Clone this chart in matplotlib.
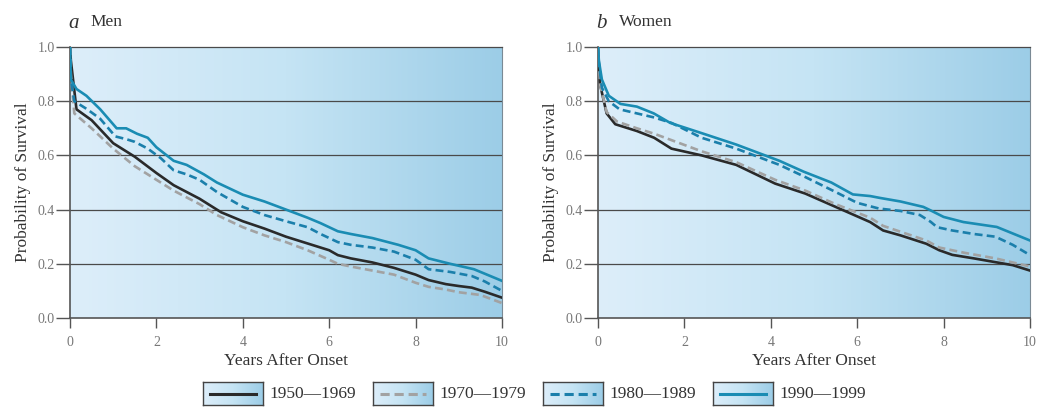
import numpy as np
import matplotlib
matplotlib.use("Agg")
import matplotlib.pyplot as plt
from matplotlib.colors import LinearSegmentedColormap

# survival curves (years after onset, probability)
men_t_5069 = [0, 0.02, 0.15, 0.5, 1.0, 1.5, 2.0, 2.4, 2.7, 3.0, 3.3, 3.5, 4.0, 4.5, 5.0,
              5.5, 6.0, 6.2, 6.5, 7.0, 7.5, 7.8, 8.0, 8.3, 8.7, 9.0, 9.3, 9.6, 10]
men_p_5069 = [1.0, 0.95, 0.77, 0.73, 0.645, 0.595, 0.535, 0.49, 0.465, 0.44, 0.41, 0.39, 0.357,
              0.33, 0.30, 0.275, 0.25, 0.232, 0.22, 0.205, 0.185, 0.17, 0.16, 0.14, 0.125,
              0.118, 0.112, 0.097, 0.075]
men_t_7079 = [0, 0.02, 0.1, 0.5, 1.0, 1.5, 2.0, 2.4, 3.0, 3.4, 4.0, 4.5, 5.0, 5.5, 6.0, 6.2,
              6.5, 7.0, 7.5, 8.0, 8.3, 8.7, 9.0, 9.5, 10]
men_p_7079 = [1.0, 0.90, 0.755, 0.70, 0.625, 0.56, 0.51, 0.47, 0.42, 0.38, 0.335, 0.305, 0.28,
              0.25, 0.215, 0.20, 0.19, 0.175, 0.16, 0.13, 0.115, 0.105, 0.095, 0.085, 0.055]
men_t_8089 = [0, 0.02, 0.1, 0.4, 0.7, 1.05, 1.3, 1.5, 1.8, 2.1, 2.4, 2.7, 3.0, 3.4, 4.0, 4.5,
              5.0, 5.5, 5.8, 6.2, 6.5, 7.0, 7.5, 8.0, 8.3, 8.8, 9.3, 9.6, 10]
men_p_8089 = [1.0, 0.88, 0.80, 0.77, 0.735, 0.67, 0.66, 0.65, 0.625, 0.59, 0.545, 0.53, 0.51,
              0.465, 0.41, 0.38, 0.357, 0.335, 0.31, 0.28, 0.27, 0.26, 0.245, 0.215, 0.18,
              0.17, 0.155, 0.135, 0.10]
men_t_9099 = [0, 0.02, 0.15, 0.38, 0.7, 1.08, 1.3, 1.55, 1.8, 2.0, 2.4, 2.7, 3.1, 3.4, 4.0,
              4.5, 5.0, 5.5, 5.8, 6.2, 6.5, 7.0, 7.6, 8.0, 8.3, 8.8, 9.35, 10]
men_p_9099 = [1.0, 0.88, 0.845, 0.82, 0.77, 0.70, 0.70, 0.68, 0.665, 0.63, 0.58, 0.565, 0.53,
              0.50, 0.455, 0.43, 0.40, 0.37, 0.35, 0.32, 0.31, 0.295, 0.27, 0.25, 0.22, 0.20,
              0.18, 0.137]

women_t_5069 = [0, 0.02, 0.05, 0.2, 0.4, 0.6, 0.9, 1.3, 1.7, 2.4, 3.2, 4.1, 4.8, 5.5, 6.0,
                6.3, 6.6, 7.0, 7.6, 7.9, 8.2, 8.7, 9.2, 9.6, 10]
women_p_5069 = [1.0, 0.93, 0.86, 0.755, 0.715, 0.705, 0.69, 0.665, 0.625, 0.60, 0.565, 0.496,
                0.459, 0.41, 0.375, 0.354, 0.323, 0.305, 0.274, 0.25, 0.233, 0.22, 0.206,
                0.195, 0.175]
women_t_7079 = [0, 0.02, 0.05, 0.2, 0.44, 0.9, 1.3, 2.4, 3.2, 4.1, 4.8, 5.5, 6.3, 6.6, 7.6,
                7.9, 8.5, 9.2, 10]
women_p_7079 = [1.0, 0.93, 0.86, 0.76, 0.725, 0.70, 0.68, 0.615, 0.575, 0.51, 0.47, 0.42,
                0.37, 0.34, 0.286, 0.26, 0.24, 0.22, 0.19]
women_t_8089 = [0, 0.02, 0.09, 0.25, 0.5, 1.3, 1.7, 2.4, 3.2, 4.2, 4.8, 5.5, 6.0, 6.5, 7.0,
                7.45, 7.7, 7.85, 8.2, 8.7, 9.2, 9.6, 10]
women_p_8089 = [1.0, 0.94, 0.85, 0.80, 0.77, 0.74, 0.72, 0.665, 0.625, 0.565, 0.52, 0.465,
                0.425, 0.404, 0.395, 0.38, 0.355, 0.335, 0.323, 0.31, 0.30, 0.27, 0.232]
women_t_9099 = [0, 0.02, 0.09, 0.25, 0.52, 0.9, 1.29, 1.67, 2.44, 3.2, 4.2, 4.76, 5.4, 5.9,
                6.3, 6.53, 7.0, 7.53, 7.7, 8.0, 8.46, 9.23, 10]
women_p_9099 = [1.0, 0.95, 0.88, 0.82, 0.79, 0.78, 0.755, 0.72, 0.68, 0.64, 0.58, 0.54, 0.50,
                0.456, 0.45, 0.443, 0.43, 0.41, 0.397, 0.373, 0.354, 0.336, 0.286]

periods = ["1950\u20141969", "1970\u20141979", "1980\u20141989", "1990\u20141999"]
x_ticks = [0, 2, 4, 6, 8, 10]
y_ticks = [0.0, 0.2, 0.4, 0.6, 0.8, 1.0]

styles = [
    dict(color="#2a2a2a", lw=1.9, ls="-"),
    dict(color="#a2a2a2", lw=1.9, ls=(0, (3, 1.6))),
    dict(color="#1b7fab", lw=1.9, ls=(0, (3, 1.6))),
    dict(color="#1a8cb3", lw=1.9, ls="-"),
]

plt.rcParams["font.family"] = ["Liberation Serif", "DejaVu Serif"]
bg = LinearSegmentedColormap.from_list("bg", ["#ddeefa", "#c5e4f4", "#9ccde7"])
grad = np.linspace(0, 1, 256).reshape(1, -1)

fig = plt.figure(figsize=(10.4, 4.07), dpi=100)
W, H = 1040, 407


def panel(left_px, letter, name, series):
    ax = fig.add_axes([left_px / W, 1 - 318 / H, 432 / W, 271 / H])
    ax.imshow(grad, cmap=bg, extent=[0, 10, 0, 1], aspect="auto", zorder=0)
    for v in y_ticks[1:-1]:
        ax.axhline(v, color="#4a4a4a", lw=0.9, zorder=1)
    for (t, p), st in zip(series, styles):
        ax.plot(t, p, color=st["color"], lw=st["lw"], ls=st["ls"], zorder=3)
    ax.set_xlim(0, 10)
    ax.set_ylim(0, 1)
    ax.set_xticks(x_ticks)
    ax.set_xticklabels([str(v) for v in x_ticks])
    ax.set_yticks(y_ticks)
    ax.set_yticklabels([f"{v:.1f}" for v in y_ticks])
    ax.tick_params(axis="x", direction="out", length=7, width=1, color="#555555",
                   labelsize=10, labelcolor="#777777", pad=6)
    ax.tick_params(axis="y", direction="out", length=10, width=1, color="#555555",
                   labelsize=10, labelcolor="#777777", pad=1)
    for s in ["left", "bottom"]:
        ax.spines[s].set_color("#555555")
        ax.spines[s].set_linewidth(1.2)
    ax.spines["top"].set_color("#4a4a4a")
    ax.spines["top"].set_linewidth(0.9)
    ax.spines["right"].set_color("#7a8a95")
    ax.spines["right"].set_linewidth(0.8)
    ax.set_xlabel("Years After Onset", fontsize=12.5, color="#333333", labelpad=3)
    ax.set_ylabel("Probability of Survival", fontsize=12.5, color="#333333", labelpad=5)
    fig.text(left_px / W - 0.002, 1 - 23 / H, letter, fontsize=15, style="italic",
             color="#333333", va="center", ha="left")
    fig.text(left_px / W + 0.02, 1 - 22 / H, name, fontsize=12.5, color="#333333",
             va="center", ha="left")
    return ax


panel(70, "a", "Men", [(men_t_5069, men_p_5069), (men_t_7079, men_p_7079),
                       (men_t_8089, men_p_8089), (men_t_9099, men_p_9099)])
panel(598, "b", "Women", [(women_t_5069, women_p_5069), (women_t_7079, women_p_7079),
                          (women_t_8089, women_p_8089), (women_t_9099, women_p_9099)])

# legend: small gradient boxes with line samples
box_left = [203, 373, 543, 713]
for bx, lab, st in zip(box_left, periods, styles):
    lax = fig.add_axes([bx / W, 1 - 405 / H, 60 / W, 23 / H])
    lax.imshow(grad, cmap=bg, extent=[0, 1, 0, 1], aspect="auto", zorder=0)
    lax.plot([0.12, 0.88], [0.5, 0.5], color=st["color"], lw=2.2, ls=st["ls"], zorder=2)
    lax.set_xlim(0, 1)
    lax.set_ylim(0, 1)
    lax.set_xticks([])
    lax.set_yticks([])
    for s in lax.spines.values():
        s.set_color("#444444")
        s.set_linewidth(1.0)
    fig.text((bx + 66) / W, 1 - 394 / H, lab, fontsize=12.5, color="#333333",
             va="center", ha="left")

fig.savefig("out.png", dpi=100)
